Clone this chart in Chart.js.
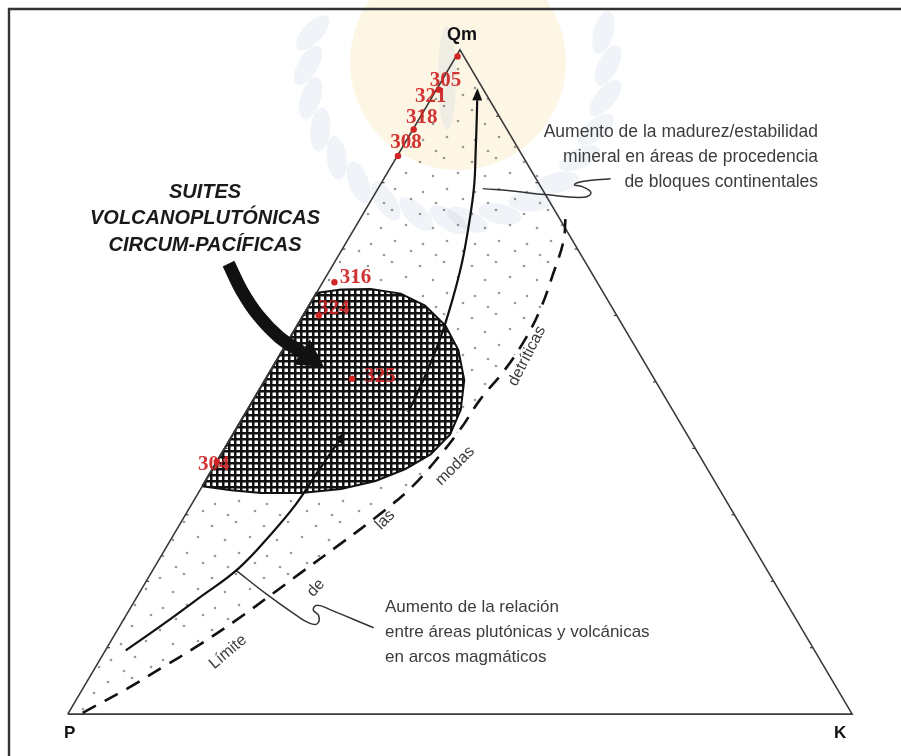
<!DOCTYPE html>
<html><head><meta charset="utf-8">
<script src="https://cdn.jsdelivr.net/npm/chart.js@4/dist/chart.umd.min.js"></script>
<style>html,body{margin:0;padding:0;background:#fff;}canvas{display:block;}</style>
</head><body>
<canvas id="c" width="901" height="756" style="width:901px;height:756px"></canvas>
<script>
// ---------- DATA (ternary Qm–P–K, in %; P = 100 - Qm - K) ----------
const sampleIds = ['305','321','318','308','316','324','325','304'];
const sampleQm  = [99, 94, 88, 84, 65, 60, 50.5, 38];
const sampleK   = [0.2, 0.3, 0.1, 0.1, 1.5, 2, 11, 0];

// "Suites volcanoplutónicas circum-pacíficas" field (cross-hatched)
const fieldQm = [34.3, 63.4, 63.9, 64.0, 63.3, 61.5, 58.5, 54.8, 50.3, 45.8, 42.1, 39.1, 36.9, 35.1, 33.9, 33.3, 33.3, 33.7, 34.3];
const fieldK  = [0,    0,    2.9,  6.6, 10.8, 14.8, 18.9, 22.4, 25.4, 27.2, 27.7, 26.7, 24.6, 21.7, 17.9, 13.1,  8.0,  4.0,  0];

// "Límite de las modas detríticas" (dashed)
const limitQm = [0.2, 4.0, 7.0, 10.0, 14.0, 18.5, 21.3, 25.7, 30.2, 34.0, 38.1, 42.8, 47.3, 51.8, 56.3, 60.8, 66.0, 71.2, 74.5];
const limitK  = [1.8, 5.8, 8.5, 11.2, 14.3, 17.3, 19.1, 22.0, 24.8, 26.7, 27.8, 28.6, 28.9, 29.8, 30.1, 29.8, 28.8, 27.6, 26.2];

// Trend arrows
const arrowVolcQm = [9.6, 13.4, 17.5, 21.9, 27.2, 31.6, 36.1, 41.0];
const arrowVolcK  = [2.6, 5.3,  8.0, 10.8, 12.4, 13.3, 13.6, 14.0];
const arrowMatQm  = [45.4, 51.0, 56.6, 62.2, 67.9, 73.4, 79.4, 84.6, 89.9, 92.4];
const arrowMatK   = [20.7, 20.1, 19.2, 17.9, 16.3, 14.4, 12.1,  9.7,  7.2,  6.0];

// Annotation paths in plot units (x along P–K base 0–100, y = height 0–100)
const bigArrowX = [20.5, 22.2, 24.3, 27.0, 29.8];
const bigArrowY = [67.8, 63.7, 60.0, 56.7, 54.5];
const leaderTopX = [52.9, 57.0, 60.8, 65.8, 66.7, 65.6, 64.6, 65.8, 69.2];
const leaderTopY = [79.1, 78.7, 78.2, 77.8, 78.5, 79.4, 79.7, 80.2, 80.6];
const leaderLowX = [21.5, 25.3, 29.1, 30.8, 31.8, 32.0, 31.3, 31.8, 33.5, 39.0];
const leaderLowY = [21.6, 18.1, 14.9, 13.7, 13.6, 14.8, 15.7, 16.4, 15.7, 13.0];

const vertexNames = ['Qm', 'P', 'K'];
const gridTicks = [10, 20, 30, 40, 50, 60, 70, 80, 90];

// ---------- helpers ----------
const tern = (qm, k) => ({ x: k + qm / 2, y: qm });
const ternPath = (qa, ka) => qa.map((q, i) => tern(q, ka[i]));
const xyPath = (xa, ya) => xa.map((x, i) => ({ x, y: ya[i] }));

function makeHatch() {
  const c = document.createElement('canvas'); c.width = 6; c.height = 6;
  const g = c.getContext('2d');
  g.fillStyle = '#fff'; g.fillRect(0, 0, 6, 6);
  g.fillStyle = '#111'; g.fillRect(0, 0, 6, 2.5); g.fillRect(0, 0, 2.5, 6);
  return g.createPattern(c, 'repeat');
}
function makeStipple() {
  const c = document.createElement('canvas'); c.width = 52; c.height = 52;
  const g = c.getContext('2d');
  g.fillStyle = 'rgba(110,110,110,0.7)';
  [[4,6],[28,2],[17,20],[42,17],[7,36],[31,33],[47,43],[20,47]].forEach(p => {
    g.beginPath(); g.arc(p[0], p[1], 1.3, 0, Math.PI * 2); g.fill();
  });
  const ctx = document.getElementById('c').getContext('2d');
  return ctx.createPattern(c, 'repeat');
}

const triangle = [tern(0, 0), tern(0, 100), tern(100, 0), tern(0, 0)];
const stippleShape = [tern(0, 0)].concat(ternPath(limitQm, limitK), [tern(100, 0), tern(0, 0)]);

const lineDs = (data, opts) => Object.assign({
  type: 'line', data, showLine: true, pointRadius: 0, borderColor: '#111',
  borderWidth: 2, fill: false, tension: 0.4, order: 2
}, opts);

const datasets = [
  lineDs(stippleShape, { borderWidth: 0, borderColor: 'rgba(0,0,0,0)', fill: 'shape', backgroundColor: makeStipple(), tension: 0, order: 9 }),
  lineDs(ternPath(fieldQm, fieldK), { fill: 'shape', backgroundColor: makeHatch(), borderColor: '#111', borderWidth: 2, tension: 0, order: 8 }),
  lineDs(triangle, { borderColor: '#3a3a3a', borderWidth: 1.6, tension: 0, order: 3 }),
  lineDs(ternPath(limitQm, limitK), { borderDash: [15, 10], borderWidth: 2.6, order: 2 }),
  lineDs(ternPath(arrowVolcQm, arrowVolcK), { borderWidth: 2.2 }),
  lineDs(ternPath(arrowMatQm, arrowMatK), { borderWidth: 2.2 }),
  lineDs(xyPath(bigArrowX, bigArrowY), { borderWidth: 13, borderCapStyle: 'butt' }),
  lineDs(xyPath(leaderTopX, leaderTopY), { borderWidth: 1.5, borderColor: '#333', tension: 0.45 }),
  lineDs(xyPath(leaderLowX, leaderLowY), { borderWidth: 1.5, borderColor: '#333', tension: 0.45 }),
  { type: 'scatter', data: ternPath(sampleQm, sampleK), pointRadius: 3.2, pointBackgroundColor: '#d22525',
    pointBorderWidth: 0, showLine: false, order: 0 }
];

function head(ctx, meta, len, half) {
  const pts = meta.data; const a = pts[pts.length - 2], b = pts[pts.length - 1];
  const dx = b.x - a.x, dy = b.y - a.y, L = Math.hypot(dx, dy), ux = dx / L, uy = dy / L;
  const tx = b.x + ux * len, ty = b.y + uy * len;
  ctx.beginPath();
  ctx.moveTo(tx, ty);
  ctx.lineTo(b.x - uy * half, b.y + ux * half);
  ctx.lineTo(b.x + uy * half, b.y - ux * half);
  ctx.closePath(); ctx.fillStyle = '#111'; ctx.fill();
}

const overlay = {
  id: 'overlay',
  beforeDraw(chart) {
    const ctx = chart.ctx;
    ctx.save();
    ctx.fillStyle = '#fff'; ctx.fillRect(0, 0, 901, 756);
    // faint watermark (university crest behind the apex)
    ctx.fillStyle = 'rgba(252,240,212,0.6)';
    ctx.beginPath(); ctx.arc(458, 62, 108, 0, Math.PI * 2); ctx.fill();
    ctx.fillStyle = 'rgba(185,200,222,0.22)';
    for (let i = 0; i < 9; i++) {
      const a1 = Math.PI * (0.52 + i * 0.07), a2 = Math.PI * (0.48 - i * 0.07);
      [a1, a2].forEach(a => {
        ctx.save(); ctx.translate(458 + Math.cos(a) * 150, 70 + Math.sin(a) * 150);
        ctx.rotate(a + Math.PI / 2);
        ctx.beginPath(); ctx.ellipse(0, 0, 22, 10, 0.5, 0, Math.PI * 2); ctx.fill();
        ctx.restore();
      });
    }
    ctx.beginPath(); ctx.ellipse(447, 78, 9, 52, 0, 0, Math.PI * 2); ctx.fill();
    // frame
    ctx.strokeStyle = '#333'; ctx.lineWidth = 2.4;
    ctx.beginPath(); ctx.moveTo(9, 756); ctx.lineTo(9, 9); ctx.lineTo(901, 9); ctx.stroke();
    ctx.restore();
  },
  afterDatasetsDraw(chart) {
    const ctx = chart.ctx, xs = chart.scales.x, ys = chart.scales.y;
    const px = p => ({ x: xs.getPixelForValue(p.x), y: ys.getPixelForValue(p.y) });
    ctx.save();
    // edge ticks
    ctx.strokeStyle = '#3a3a3a'; ctx.lineWidth = 1.2;
    gridTicks.forEach(t => {
      const a = px(tern(t, 0)), b = px(tern(t, 100 - t));
      ctx.beginPath(); ctx.moveTo(a.x, a.y); ctx.lineTo(a.x + 3, a.y); ctx.stroke();
      ctx.beginPath(); ctx.moveTo(b.x, b.y); ctx.lineTo(b.x - 3, b.y); ctx.stroke();
    });
    // arrowheads
    head(ctx, chart.getDatasetMeta(4), 12, 5);
    head(ctx, chart.getDatasetMeta(5), 12, 5);
    head(ctx, chart.getDatasetMeta(6), 27, 15);

    // vertex labels
    ctx.fillStyle = '#111'; ctx.textAlign = 'center'; ctx.textBaseline = 'middle';
    ctx.font = 'bold 18px "Liberation Sans", Arial, sans-serif';
    const vQ = px(tern(100, 0)), vP = px(tern(0, 0)), vK = px(tern(0, 100));
    ctx.fillText(vertexNames[0], vQ.x + 2, vQ.y - 15);
    ctx.font = 'bold 17px "Liberation Sans", Arial, sans-serif';
    ctx.fillText(vertexNames[1], vP.x + 2, vP.y + 19);
    ctx.fillText(vertexNames[2], vK.x - 12, vK.y + 19);

    // sample labels
    const offs = [[-12, 24], [-8, 7], [8, -12], [8, -13], [21, -5], [15, -7], [28, -2], [-3, 3]];
    ctx.font = 'bold 21px "Liberation Serif", "Times New Roman", serif';
    ctx.fillStyle = 'rgba(205,35,35,0.92)';
    const meta = chart.getDatasetMeta(9);
    sampleIds.forEach((id, i) => {
      const p = meta.data[i];
      ctx.fillText(id, p.x + offs[i][0], p.y + offs[i][1]);
    });

    // title block
    ctx.fillStyle = '#1a1a1a';
    ctx.font = 'italic bold 20px "Liberation Sans", Arial, sans-serif';
    ctx.fillText('SUITES', 205, 192);
    ctx.fillText('VOLCANOPLUTÓNICAS', 205, 218);
    ctx.fillText('CIRCUM-PACÍFICAS', 205, 245);

    // annotations
    ctx.fillStyle = '#3c3c3c';
    ctx.font = '17.5px "Liberation Sans", Arial, sans-serif';
    ctx.textAlign = 'right';
    ctx.fillText('Aumento de la madurez/estabilidad', 818, 132);
    ctx.fillText('mineral en áreas de procedencia', 818, 157);
    ctx.fillText('de bloques continentales', 818, 182);
    ctx.font = '17px "Liberation Sans", Arial, sans-serif';
    ctx.textAlign = 'left';
    ctx.fillText('Aumento de la relación', 385, 607);
    ctx.fillText('entre áreas plutónicas y volcánicas', 385, 632);
    ctx.fillText('en arcos magmáticos', 385, 657);

    // rotated boundary labels
    const rot = (txt, x, y, deg) => {
      ctx.save(); ctx.translate(x, y); ctx.rotate(deg * Math.PI / 180);
      ctx.textAlign = 'center'; ctx.fillText(txt, 0, 0); ctx.restore();
    };
    ctx.font = '16px "Liberation Sans", Arial, sans-serif';
    rot('Límite', 228, 652, -40);
    rot('de', 316, 588, -48);
    rot('las', 385, 520, -45);
    rot('modas', 455, 466, -45);
    rot('detríticas', 527, 356, -63);
    ctx.restore();
  }
};

new Chart(document.getElementById('c'), {
  data: { datasets },
  options: {
    responsive: false, maintainAspectRatio: false, animation: false,
    layout: { padding: 0 },
    scales: {
      x: { type: 'linear', min: -8.228, max: 105.82, display: false },
      y: { type: 'linear', min: -5.82, max: 107.01, display: false }
    },
    plugins: { legend: { display: false }, tooltip: { enabled: false } },
    elements: { point: { hoverRadius: 0 } }
  },
  plugins: [overlay]
});
</script>
</body></html>
